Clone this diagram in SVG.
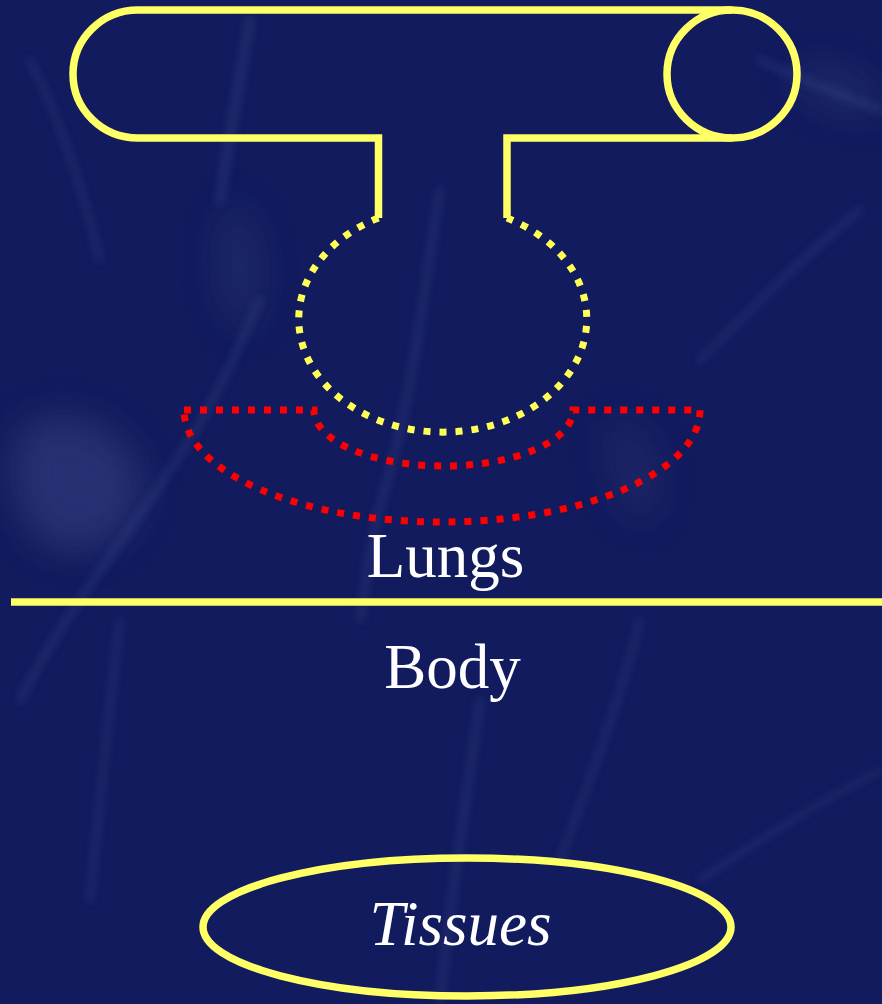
<svg xmlns="http://www.w3.org/2000/svg" width="882" height="1004" viewBox="0 0 882 1004">
  <defs>
    <filter id="soft" x="-20%" y="-20%" width="140%" height="140%">
      <feGaussianBlur stdDeviation="4"/>
    </filter>
    <filter id="softer" x="-50%" y="-50%" width="200%" height="200%">
      <feGaussianBlur stdDeviation="18"/>
    </filter>
    <style>
      .solid { fill: none; stroke: #ffff66; stroke-width: 7.5; }
      .dotY { fill: none; stroke: #ffff55; stroke-width: 7; stroke-dasharray: 7 9; }
      .dotR { fill: none; stroke: #ff0000; stroke-width: 7; stroke-dasharray: 7 9; }
      .lbl { font-family: "Liberation Serif", "Times New Roman", serif; font-size: 63px; fill: #ffffff; text-anchor: middle; }
      .streak { fill: none; stroke: #4a5a9c; stroke-linecap: round; opacity: 0.3; }
    </style>
  </defs>

  <!-- background -->
  <g id="background">
    <rect x="0" y="0" width="882" height="1004" fill="#121b5e"/>
    <g filter="url(#softer)">
      <path d="M20 430 C60 400 120 420 140 470 C150 520 110 560 60 550 C20 540 0 480 20 430 Z" fill="#3e4c8c" opacity="0.45"/>
      <path d="M230 200 C260 210 270 280 250 330 C230 340 215 290 220 240 Z" fill="#34427f" opacity="0.35"/>
      <path d="M610 420 C650 410 670 470 650 520 C630 530 600 480 610 420 Z" fill="#34427f" opacity="0.3"/>
      <path d="M790 70 C830 60 882 80 882 110 C850 120 800 100 790 70 Z" fill="#3a4888" opacity="0.35"/>
    </g>
    <g filter="url(#soft)">
      <path class="streak" stroke-width="6" d="M440 190 C425 280 415 380 390 470 S370 560 360 620"/>
      <path class="streak" stroke-width="8" d="M250 20 C240 80 230 130 220 200"/>
      <path class="streak" stroke-width="6" d="M20 700 C60 620 110 560 170 470 S240 340 260 300"/>
      <path class="streak" stroke-width="5" d="M860 210 C800 260 760 300 700 360"/>
      <path class="streak" stroke-width="6" d="M760 60 C800 80 840 95 882 110"/>
      <path class="streak" stroke-width="5" d="M640 620 C620 700 590 780 560 860"/>
      <path class="streak" stroke-width="6" d="M480 700 C470 780 455 860 440 1000"/>
      <path class="streak" stroke-width="5" d="M120 620 C110 700 100 800 90 900"/>
      <path class="streak" stroke-width="4" d="M700 880 C760 840 820 800 882 770"/>
      <path class="streak" stroke-width="5" d="M30 60 C60 120 80 180 100 260"/>
    </g>
  </g>

  <!-- tube (top) -->
  <g id="tube">
    <path class="solid" d="M138 10 A65 64 0 0 0 138 138"/>
    <line class="solid" x1="138" y1="10" x2="732" y2="10"/>
    <ellipse class="solid" cx="732" cy="74" rx="65" ry="64"/>
    <path class="solid" d="M138 138 H378.5 V218"/>
    <path class="solid" d="M507 218 V138 H732"/>
  </g>

  <!-- alveolus (dotted yellow) -->
  <g id="alveolus">
    <path class="dotY" d="M378.5 218 A144 113 0 1 0 507 218"/>
  </g>

  <!-- capillary (dotted red) -->
  <g id="capillary">
    <path class="dotR" d="M184 410 H314 A129.5 56 0 0 0 573 410 H700 A258 112 0 0 1 184 410 Z"/>
  </g>

  <!-- divider -->
  <g id="connectors">
    <line class="solid" x1="11" y1="602" x2="882" y2="602"/>
  </g>

  <g id="lungs-label">
    <text class="lbl" x="445.5" y="577">Lungs</text>
  </g>
  <g id="body-label">
    <text class="lbl" x="452.5" y="688">Body</text>
  </g>

  <g id="tissues">
    <ellipse class="solid" cx="467" cy="927" rx="264" ry="69"/>
    <text class="lbl" x="460.5" y="945" font-style="italic">Tissues</text>
  </g>
</svg>
